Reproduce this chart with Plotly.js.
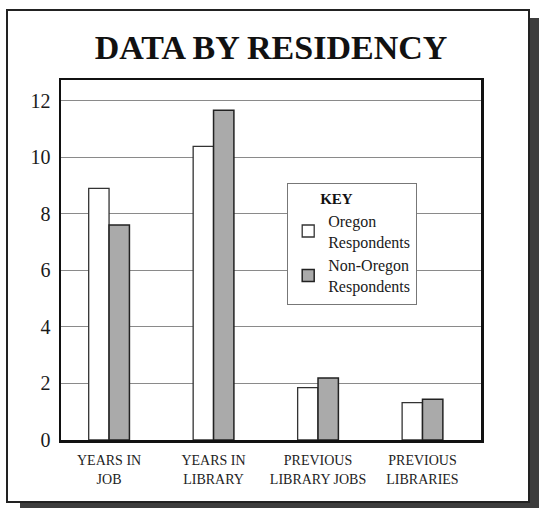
<!DOCTYPE html>
<html>
<head>
<meta charset="utf-8">
<script src="https://cdn.plot.ly/plotly-3.0.1.min.js"></script>
<style>html,body{margin:0;padding:0;background:#fff;}#chart{width:539px;height:508px;}</style>
</head>
<body>
<div id="chart"></div>
<script>
const categories = ["YEARS IN<br>JOB", "YEARS IN<br>LIBRARY", "PREVIOUS<br>LIBRARY JOBS", "PREVIOUS<br>LIBRARIES"];
const oregonValues = [8.9, 10.38, 1.85, 1.32];
const nonOregonValues = [7.6, 11.66, 2.19, 1.44];
const seriesNames = ["Oregon<br>Respondents", "Non-Oregon<br>Respondents"];
const yTicks = [0, 2, 4, 6, 8, 10, 12];

const serif = "Liberation Serif, DejaVu Serif, serif";

const traces = [
  {
    type: "bar", name: seriesNames[0], x: categories, y: oregonValues,
    marker: {color: "#ffffff", line: {color: "#333333", width: 1.3}},
    hoverinfo: "skip"
  },
  {
    type: "bar", name: seriesNames[1], x: categories, y: nonOregonValues,
    marker: {color: "#aaaaaa", line: {color: "#222222", width: 1.5}},
    hoverinfo: "skip"
  }
];

const W = 420, H = 360, L = 61, T = 80;
function px(x) { return (x - L) / W; }
function py(y) { return (T + H - y) / H; }

const layout = {
  width: 539, height: 508,
  margin: {l: 61, r: 58, t: 80, b: 68},
  paper_bgcolor: "#ffffff",
  plot_bgcolor: "#ffffff",
  font: {family: serif, color: "#1a1a1a"},
  title: {
    text: "<b>DATA BY RESIDENCY</b>",
    font: {family: serif, size: 34, color: "#111111"},
    x: 0.5, xref: "paper", xanchor: "center",
    y: 1 - 47.5 / 508, yref: "container", yanchor: "middle"
  },
  barmode: "group",
  bargap: 0.61,
  bargroupgap: 0,
  showlegend: true,
  legend: {
    title: {text: "&nbsp;&nbsp;&nbsp;&nbsp;&nbsp;&nbsp;&nbsp;&nbsp;<b>KEY</b>", font: {family: serif, size: 15, color: "#111"}, side: "top"},
    x: px(287), y: py(183), xanchor: "left", yanchor: "top",
    bgcolor: "#ffffff", bordercolor: "#777777", borderwidth: 1.2,
    font: {family: serif, size: 16, color: "#1a1a1a"},
    tracegroupgap: 0, itemwidth: 30,
    traceorder: "normal"
  },
  xaxis: {
    type: "category",
    range: [-0.46, 3.56],
    showgrid: false,
    showline: true, linecolor: "#111111", linewidth: 2.5, mirror: true,
    ticks: "", ticklabelstandoff: 6,
    tickfont: {family: serif, size: 14, color: "#222222"},
    zeroline: false, fixedrange: true
  },
  yaxis: {
    range: [0, 12.73],
    tickvals: yTicks,
    ticktext: yTicks.map(String),
    showgrid: true, gridcolor: "#8a8a8a", gridwidth: 1,
    showline: true, linecolor: "#111111", linewidth: 2.5, mirror: true,
    ticks: "", ticklabelstandoff: 4,
    tickfont: {family: serif, size: 20, color: "#1a1a1a"},
    zeroline: false, fixedrange: true
  },
  shapes: [
    {type: "rect", xref: "paper", yref: "paper", layer: "below",
     x0: px(20), x1: px(539), y0: py(508), y1: py(18),
     fillcolor: "#3d3d3d", line: {width: 0}},
    {type: "rect", xref: "paper", yref: "paper", layer: "below",
     x0: px(7), x1: px(529), y0: py(502), y1: py(10),
     fillcolor: "#ffffff", line: {color: "#222222", width: 2}}
  ]
};

Plotly.newPlot("chart", traces, layout, {staticPlot: true, displayModeBar: false});
</script>
</body>
</html>
